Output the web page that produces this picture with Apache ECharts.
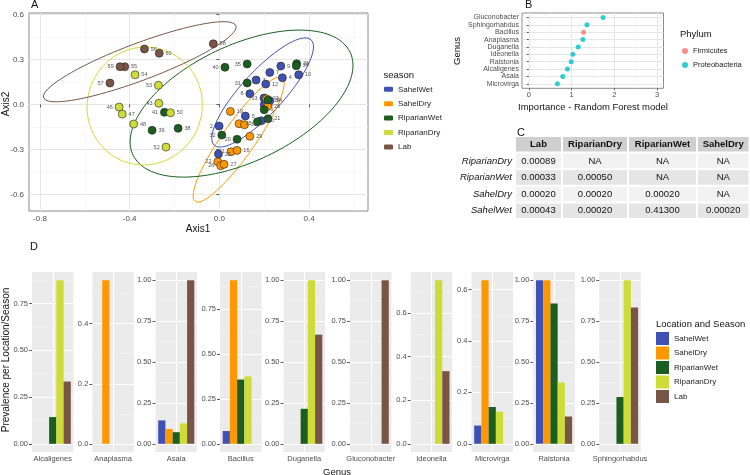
<!DOCTYPE html>
<html>
<head>
<meta charset="utf-8">
<script src="https://cdn.jsdelivr.net/npm/echarts@6/dist/echarts.min.js"></script>
<style>
  html, body { margin: 0; padding: 0; background: #fff; }
  #chart { width: 750px; height: 475px; }
</style>
</head>
<body>
<div id="chart"></div>
<script>
const FONT = 'Liberation Sans, Arial, sans-serif';

// ---------- shared groups
const seasons = ['SahelWet', 'SahelDry', 'RiparianWet', 'RiparianDry', 'Lab'];
const seasonColors = ['#3F51B5', '#FF9800', '#1B5E20', '#CDDC39', '#795548'];

// ---------- A: ordination scores [Axis1, Axis2, sample]
const sahelWetPts = [
    [0.274, 0.255, '9'], [0.354, 0.197, '10'], [0.225, 0.213, '7'], [0.164, 0.162, '3'],
    [0.281, 0.177, '4'], [0.207, 0.135, '12'], [0.136, 0.071, '8'], [0.199, 0.042, '13'],
    [0.225, 0.024, '14'], [0.2, -0.003, '6'], [0.116, -0.078, '5'], [0.187, -0.109, '30'],
    [-0.001, -0.145, '2'], [-0.004, -0.331, '25']
];
const sahelDryPts = [
    [0.049, -0.047, '19'], [0.088, -0.129, '15'], [0.112, -0.136, '33'], [0.136, -0.213, '29'],
    [0.052, -0.316, '11'], [0.079, -0.307, '16'], [-0.007, -0.383, '22'], [0.006, -0.409, '26'],
    [0.021, -0.4, '27'], [0.21, 0.037, '23'], [0.216, -0.013, '28']
];
const riparianWetPts = [
    [0.025, 0.247, '40'], [0.124, 0.269, '35'], [0.124, 0.142, '31'], [0.345, 0.271, '36'],
    [0.343, 0.257, '34'], [0.217, 0.029, '24'], [0.2, -0.036, '1'], [0.217, -0.096, '21'],
    [0.17, -0.116, '37'], [0.011, -0.205, '32'], [0.079, -0.233, '20'], [-0.245, -0.053, '41'],
    [-0.3, -0.173, '39'], [-0.184, -0.16, '38']
];
const riparianDryPts = [
    [-0.376, 0.197, '54'], [-0.272, 0.127, '53'], [-0.27, 0.007, '43'], [-0.447, -0.018, '46'],
    [-0.433, -0.065, '47'], [-0.382, -0.131, '48'], [-0.218, -0.056, '50'], [-0.238, -0.285, '52']
];
const labPts = [
    [-0.027, 0.404, '58'], [-0.334, 0.369, '56'], [-0.268, 0.34, '60'],
    [-0.422, 0.251, '55'], [-0.443, 0.251, '59'], [-0.488, 0.142, '57']
];
const ordinationPts = [sahelWetPts, sahelDryPts, riparianWetPts, riparianDryPts, labPts];

// 95% ellipses per season: centre, and spread [half-width, half-height, correlation]
const ellipseCentres = [[0.193, 0.079], [0.086, -0.235], [0.099, 0.005], [-0.333, -0.011], [-0.355, 0.284]];
const ellipseSpread = [[0.227, 0.364, 0.84], [0.203, 0.417, 0.9], [0.497, 0.49, 0.52], [0.257, 0.393, 0.02], [0.43, 0.267, 0.87]];

const axis1Ticks = [-0.8, -0.4, 0, 0.4];
const axis2Ticks = [-0.6, -0.3, 0, 0.3, 0.6];

// ---------- B: random forest importance (bottom to top)
const rfGenus = ['Microvirga', 'Asaia', 'Alcaligenes', 'Ralstonia', 'Ideonella', 'Duganella', 'Anaplasma', 'Bacillus', 'Sphingorhabdus', 'Gluconobacter'];
const rfImportance = [0.668, 0.793, 0.903, 0.99, 1.03, 1.155, 1.265, 1.28, 1.359, 1.736];
const rfPhylum = ['Proteobacteria', 'Proteobacteria', 'Proteobacteria', 'Proteobacteria', 'Proteobacteria', 'Proteobacteria', 'Proteobacteria', 'Firmicutes', 'Proteobacteria', 'Proteobacteria'];
const phyla = ['Firmicutes', 'Proteobacteria'];
const phylumColors = ['#F8766D', '#00BFC4'];
const rfTicks = [0, 1, 2, 3];

// ---------- C: pairwise p-values
const tableCols = ['Lab', 'RiparianDry', 'RiparianWet', 'SahelDry'];
const tableRows = ['RiparianDry', 'RiparianWet', 'SahelDry', 'SahelWet'];
const pLab = ['0.00089', '0.00033', '0.00020', '0.00043'];
const pRiparianDry = ['NA', '0.00050', '0.00020', '0.00020'];
const pRiparianWet = ['NA', 'NA', '0.00020', '0.41300'];
const pSahelDry = ['NA', 'NA', 'NA', '0.00020'];
const tableValues = [pLab, pRiparianDry, pRiparianWet, pSahelDry];

// ---------- D: prevalence per genus
const prevGenus = ['Alcaligenes', 'Anaplasma', 'Asaia', 'Bacillus', 'Duganella', 'Gluconobacter', 'Ideonella', 'Microvirga', 'Ralstonia', 'Sphingorhabdus'];
const sahelWetPrev    = [0, 0, 0.143, 0.071, 0, 0, 0, 0.071, 1.0, 0];
const sahelDryPrev    = [0, 0.545, 0.091, 0.909, 0, 0, 0, 0.636, 1.0, 0];
const riparianWetPrev = [0.143, 0, 0.071, 0.357, 0.214, 0, 0, 0.143, 0.857, 0.286];
const riparianDryPrev = [0.875, 0, 0.125, 0.375, 1.0, 0, 0.75, 0.125, 0.375, 1.0];
const labPrev         = [0.333, 0, 1.0, 0, 0.667, 1.0, 0.333, 0, 0.167, 0.833];
const prevalence = [sahelWetPrev, sahelDryPrev, riparianWetPrev, riparianDryPrev, labPrev];
const prevTicks = [
    [0, 0.25, 0.5, 0.75], [0, 0.2, 0.4], [0, 0.25, 0.5, 0.75, 1], [0, 0.25, 0.5, 0.75],
    [0, 0.25, 0.5, 0.75, 1], [0, 0.25, 0.5, 0.75, 1], [0, 0.2, 0.4, 0.6], [0, 0.2, 0.4, 0.6],
    [0, 0.25, 0.5, 0.75, 1], [0, 0.25, 0.5, 0.75, 1]
];

// ---------- layout / style
const labelOnLeft = new Set(['59', '57', '46', '53', '43', '41', '52', '40', '35', '31', '2', '32', '20', '22', '26', '8', '13', '11']);
const tableEdges = [515, 562, 628, 697, 749.5];
const facetLeft = [32, 92.3, 155.5, 220, 283.5, 350, 410.7, 471.5, 533.3, 599.3];
const FACET_W = 41.5;

function midpoints(ticks, max) {
    const step = ticks[1] - ticks[0];
    const out = [];
    for (let i = 0; i < ticks.length; i++) {
        const m = ticks[i] + step / 2;
        if (m < max) out.push(+m.toFixed(4));
    }
    return out;
}

function ellipsePath(c, s) {
    const pts = [];
    for (let i = 0; i <= 160; i++) {
        const t = i / 160 * 2 * Math.PI;
        pts.push([
            c[0] + s[0] * Math.cos(t),
            c[1] + s[1] * (s[2] * Math.cos(t) + Math.sqrt(1 - s[2] * s[2]) * Math.sin(t))
        ]);
    }
    return pts;
}

const tickText = { fontSize: 8, color: '#4d4d4d', fontFamily: FONT };
const darkTick = { lineStyle: { color: '#333', width: 0.8 } };

const grids = [], xAxes = [], yAxes = [], series = [];

// helper: a value axis that only draws grid lines at given values
function gridOnlyAxis(gridIndex, min, max, values, color, width) {
    return {
        gridIndex, type: 'value', min, max, position: 'bottom',
        axisLine: { show: false }, axisLabel: { show: false },
        axisTick: { show: false, customValues: values },
        splitLine: { show: true, lineStyle: { color, width } }
    };
}

// ===== Panel A
grids.push({ left: 29, top: 13, width: 339, height: 198, show: true, backgroundColor: '#fff', borderColor: '#8a8a8a', borderWidth: 1 });
const ax1 = [-0.849, 0.663], ax2 = [-0.711, 0.609];
xAxes.push({
    gridIndex: 0, type: 'value', min: ax1[0], max: ax1[1],
    axisLine: { show: false },
    axisTick: { customValues: axis1Ticks, length: 3, ...darkTick },
    axisLabel: { customValues: axis1Ticks, formatter: v => v.toFixed(1), margin: 4, ...tickText },
    splitLine: { lineStyle: { color: '#e6e6e6', width: 1 } }
});
xAxes.push(gridOnlyAxis(0, ax1[0], ax1[1], midpoints(axis1Ticks, ax1[1]), '#f3f3f3', 0.6));
yAxes.push({
    gridIndex: 0, type: 'value', min: ax2[0], max: ax2[1],
    axisLine: { show: false },
    axisTick: { customValues: axis2Ticks, length: 3, ...darkTick },
    axisLabel: { customValues: axis2Ticks, formatter: v => v.toFixed(1), margin: 5, ...tickText },
    splitLine: { lineStyle: { color: '#e6e6e6', width: 1 } }
});
yAxes.push(Object.assign(gridOnlyAxis(0, ax2[0], ax2[1], [-0.45, -0.15, 0.15, 0.45], '#f3f3f3', 0.6), { position: 'left' }));

seasons.forEach((s, k) => {
    series.push({
        type: 'scatter', name: s, xAxisIndex: 0, yAxisIndex: 0, z: 3,
        symbolSize: 8,
        itemStyle: { color: seasonColors[k], borderColor: '#222', borderWidth: 0.6, opacity: 1 },
        data: ordinationPts[k].map(p => ({
            value: [p[0], p[1]],
            name: p[2],
            label: { position: labelOnLeft.has(p[2]) ? 'left' : 'right' }
        })),
        label: { show: true, formatter: p => p.name, distance: 2, fontSize: 5.5, color: '#555', fontFamily: FONT }
    });
});
seasons.forEach((s, k) => {
    series.push({
        type: 'line', name: s + ' ellipse', xAxisIndex: 0, yAxisIndex: 0, z: 2,
        showSymbol: false, silent: true, smooth: false,
        lineStyle: { color: seasonColors[k], width: 1 },
        data: ellipsePath(ellipseCentres[k], ellipseSpread[k])
    });
});

// ===== Panel B
grids.push({ left: 522, top: 13, width: 141.5, height: 75.3, show: true, backgroundColor: '#fff', borderColor: '#8a8a8a', borderWidth: 1 });
const rfRange = [-0.16, 3.15];
const rfIdx = rfGenus.map((g, i) => i + 1);
xAxes.push({
    gridIndex: 1, type: 'value', min: rfRange[0], max: rfRange[1],
    axisLine: { show: false },
    axisTick: { customValues: rfTicks, length: 2, ...darkTick },
    axisLabel: { customValues: rfTicks, formatter: v => String(v), margin: 3, ...tickText, fontSize: 7.5 },
    splitLine: { lineStyle: { color: '#e6e6e6', width: 1 } }
});
xAxes.push(gridOnlyAxis(1, rfRange[0], rfRange[1], midpoints(rfTicks, rfRange[1]), '#f3f3f3', 0.6));
yAxes.push({
    gridIndex: 1, type: 'value', min: 0.4, max: 10.6,
    axisLine: { show: false },
    axisTick: { customValues: rfIdx, length: 2, ...darkTick },
    axisLabel: { customValues: rfIdx, formatter: v => rfGenus[Math.round(v) - 1], margin: 3, ...tickText, fontSize: 7 },
    splitLine: { lineStyle: { color: '#e6e6e6', width: 1 } }
});
phyla.forEach((ph, k) => {
    series.push({
        type: 'scatter', name: ph, xAxisIndex: 2, yAxisIndex: 2, symbolSize: 5,
        itemStyle: { color: phylumColors[k] },
        data: rfImportance.map((v, i) => rfPhylum[i] === ph ? [v, i + 1] : null).filter(d => d)
    });
});

// ===== Panel C (one grid per column)
tableCols.forEach((col, j) => {
    const gi = grids.length;
    grids.push({ left: tableEdges[j], top: 136, width: tableEdges[j + 1] - tableEdges[j], height: 83 });
    const xi = xAxes.length, yi = yAxes.length;
    xAxes.push({ gridIndex: gi, type: 'category', data: [col], show: false });
    yAxes.push({
        gridIndex: gi, type: 'category', data: [''].concat(tableRows), inverse: true,
        axisLine: { show: false }, axisTick: { show: false }, splitLine: { show: false },
        axisLabel: { show: j === 0, fontSize: 9.5, fontStyle: 'italic', color: '#111', margin: 3, fontFamily: FONT }
    });
    const colText = [col].concat(tableValues[j]);
    series.push({
        type: 'custom', xAxisIndex: xi, yAxisIndex: yi, silent: true,
        data: colText.map((t, r) => [0, r]),
        renderItem: (params, api) => {
            const r = api.value(1);
            const c = api.coord([0, r]);
            const sz = api.size([1, 1]);
            const fill = r === 0 ? '#cfcfcf' : (r % 2 ? '#f2f2f2' : '#e5e5e5');
            return {
                type: 'group',
                children: [
                    { type: 'rect', shape: { x: c[0] - sz[0] / 2 + 1, y: c[1] - sz[1] / 2 + 1, width: sz[0] - 2, height: sz[1] - 2 }, style: { fill } },
                    { type: 'text', x: c[0], y: c[1], style: {
                        text: colText[params.dataIndex], align: 'center', verticalAlign: 'middle',
                        fontSize: 9.5, fontWeight: r === 0 ? 'bold' : 'normal', fill: '#111', fontFamily: FONT } }
                ]
            };
        }
    });
});

// ===== Panel D (one facet per genus, free y scale)
prevGenus.forEach((g, i) => {
    const gi = grids.length;
    const vmax = Math.max(...prevalence.map(a => a[i]));
    const lo = -0.05 * vmax, hi = 1.05 * vmax;
    const ticks = prevTicks[i];
    const dec = Math.abs((ticks[1] - ticks[0]) - 0.2) < 1e-9 ? 1 : 2;
    grids.push({ left: facetLeft[i], top: 272, width: FACET_W, height: 180, show: true, backgroundColor: '#EBEBEB', borderWidth: 0 });
    const xi = xAxes.length, yi = yAxes.length;
    xAxes.push({
        gridIndex: gi, type: 'category', data: [g],
        axisLine: { show: false },
        axisTick: { alignWithLabel: true, length: 3, ...darkTick },
        axisLabel: { interval: 0, margin: 3, ...tickText, fontSize: 7.5 },
        splitLine: { show: false }
    });
    xAxes.push(gridOnlyAxis(gi, 0, 1, [0.5], '#ffffff', 1));
    yAxes.push({
        gridIndex: gi, type: 'value', min: lo, max: hi,
        axisLine: { show: false },
        axisTick: { customValues: ticks, length: 3, ...darkTick },
        axisLabel: { customValues: ticks, formatter: v => v.toFixed(dec), margin: 4, ...tickText, fontSize: 7.5 },
        splitLine: { lineStyle: { color: '#ffffff', width: 1 } }
    });
    yAxes.push(Object.assign(gridOnlyAxis(gi, lo, hi, midpoints(ticks, hi), '#f7f7f7', 0.5), { position: 'left' }));
    seasons.forEach((s, k) => {
        series.push({
            type: 'bar', name: s, xAxisIndex: xi, yAxisIndex: yi,
            barGap: '0%', barCategoryGap: '13%',
            itemStyle: { color: seasonColors[k] },
            data: [prevalence[k][i]]
        });
    });
});

const titleText = { color: '#111', fontFamily: FONT, fontWeight: 'normal' };
const option = {
    animation: false,
    textStyle: { fontFamily: FONT },
    grid: grids,
    xAxis: xAxes,
    yAxis: yAxes,
    series,
    title: [
        { text: 'A', left: 31, top: -1, padding: 0, textStyle: { ...titleText, fontSize: 11 } },
        { text: 'B', left: 525, top: -1, padding: 0, textStyle: { ...titleText, fontSize: 11 } },
        { text: 'C', left: 517, top: 127.5, padding: 0, textStyle: { ...titleText, fontSize: 11 } },
        { text: 'D', left: 30, top: 241.5, padding: 0, textStyle: { ...titleText, fontSize: 11 } },
        { text: 'season', left: 383.5, top: 70, padding: 0, textStyle: { ...titleText, fontSize: 9.5 } },
        { text: 'Phylum', left: 680, top: 29.5, padding: 0, textStyle: { ...titleText, fontSize: 9.5 } },
        { text: 'Location and Season', left: 656, top: 319, padding: 0, textStyle: { ...titleText, fontSize: 9.5 } }
    ],
    legend: [
        {
            data: seasons, left: 384, top: 85.3, padding: 0, orient: 'vertical', icon: 'roundRect',
            itemWidth: 9, itemHeight: 5, itemGap: 6.4, selectedMode: false,
            itemStyle: { borderWidth: 0 },
            textStyle: { fontSize: 8, color: '#222', fontFamily: FONT }
        },
        {
            data: phyla, left: 682, top: 47, padding: 0, orient: 'vertical', icon: 'circle',
            itemWidth: 6, itemHeight: 6, itemGap: 6, selectedMode: false,
            itemStyle: { borderWidth: 0 },
            textStyle: { fontSize: 7.5, color: '#222', fontFamily: FONT }
        },
        {
            data: seasons, left: 656, top: 332, padding: 0, orient: 'vertical', icon: 'rect',
            itemWidth: 13, itemHeight: 13, itemGap: 1.5, selectedMode: false,
            itemStyle: { borderWidth: 0 },
            textStyle: { fontSize: 8, color: '#222', fontFamily: FONT }
        }
    ],
    graphic: [
        { type: 'text', x: 198, y: 229, style: { text: 'Axis1', fontSize: 10, fill: '#111', align: 'center', verticalAlign: 'middle', fontFamily: FONT } },
        { type: 'text', x: 6, y: 104, rotation: Math.PI / 2, style: { text: 'Axis2', fontSize: 10, fill: '#111', align: 'center', verticalAlign: 'middle', fontFamily: FONT } },
        { type: 'text', x: 593, y: 107, style: { text: 'Importance - Random Forest model', fontSize: 9.5, fill: '#111', align: 'center', verticalAlign: 'middle', fontFamily: FONT } },
        { type: 'text', x: 457, y: 51, rotation: Math.PI / 2, style: { text: 'Genus', fontSize: 9.5, fill: '#111', align: 'center', verticalAlign: 'middle', fontFamily: FONT } },
        { type: 'text', x: 6, y: 360, rotation: Math.PI / 2, style: { text: 'Prevalence per Location/Season', fontSize: 10, fill: '#111', align: 'center', verticalAlign: 'middle', fontFamily: FONT } },
        { type: 'text', x: 337, y: 472, style: { text: 'Genus', fontSize: 9.5, fill: '#111', align: 'center', verticalAlign: 'middle', fontFamily: FONT } }
    ]
};

const chart = echarts.init(document.getElementById('chart'), null, { renderer: 'canvas' });
chart.setOption(option);
</script>
</body>
</html>
